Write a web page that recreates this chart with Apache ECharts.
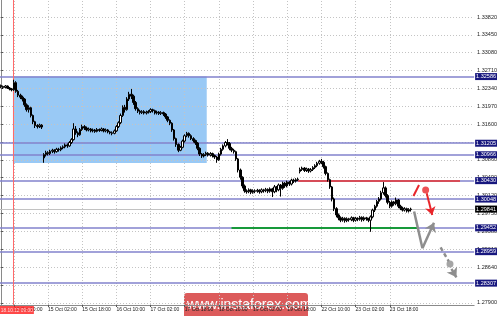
<!DOCTYPE html>
<html><head><meta charset="utf-8">
<script src="https://cdn.jsdelivr.net/npm/echarts@6/dist/echarts.min.js"></script>
<style>html,body{margin:0;padding:0;background:#fff}#c{width:500px;height:316px}</style>
</head><body><div id="c"></div>
<script>
// ---- data ----
const slotCount = 222; // candle slots on the time axis
// [open, close, low, high] per hourly candle
const candles = [
[1.3240,1.3238,1.3235,1.3242],[1.3238,1.3236,1.3233,1.3240],[1.3236,1.3239,1.3234,1.3241],[1.3239,1.3235,1.3233,1.3240],
[1.3235,1.3233,1.3230,1.3237],[1.3233,1.3231,1.3228,1.3235],[1.3231,1.3246,1.3229,1.3252],[1.3246,1.3228,1.3225,1.3249],
[1.3228,1.3220,1.3216,1.3231],[1.3220,1.3216,1.3212,1.3223],[1.3216,1.3212,1.3207,1.3219],[1.3212,1.3200,1.3196,1.3214],
[1.3200,1.3190,1.3186,1.3203],[1.3190,1.3194,1.3184,1.3199],[1.3194,1.3178,1.3174,1.3196],[1.3178,1.3165,1.3160,1.3180],
[1.3165,1.3157,1.3152,1.3167],[1.3157,1.3155,1.3151,1.3160],[1.3155,1.3158,1.3152,1.3161],[1.3158,1.3154,1.3150,1.3160],
[1.3090,1.3097,1.3080,1.3100],[1.3097,1.3101,1.3093,1.3105],[1.3101,1.3099,1.3095,1.3104],[1.3099,1.3104,1.3096,1.3107],
[1.3104,1.3106,1.3100,1.3109],[1.3106,1.3103,1.3099,1.3108],[1.3103,1.3108,1.3101,1.3111],[1.3108,1.3107,1.3103,1.3111],
[1.3107,1.3111,1.3104,1.3114],[1.3111,1.3113,1.3108,1.3116],[1.3113,1.3117,1.3110,1.3120],[1.3117,1.3115,1.3111,1.3120],
[1.3115,1.3122,1.3113,1.3125],[1.3122,1.3128,1.3119,1.3131],[1.3128,1.3150,1.3126,1.3162],[1.3150,1.3142,1.3138,1.3156],
[1.3142,1.3138,1.3133,1.3145],[1.3138,1.3149,1.3136,1.3152],[1.3149,1.3155,1.3146,1.3159],[1.3155,1.3152,1.3148,1.3158],
[1.3152,1.3148,1.3145,1.3155],[1.3148,1.3150,1.3145,1.3153],[1.3150,1.3146,1.3143,1.3152],[1.3146,1.3148,1.3143,1.3151],
[1.3148,1.3145,1.3142,1.3150],[1.3145,1.3149,1.3143,1.3152],[1.3149,1.3147,1.3144,1.3151],[1.3147,1.3150,1.3145,1.3153],
[1.3150,1.3146,1.3143,1.3152],[1.3146,1.3148,1.3143,1.3151],[1.3148,1.3144,1.3141,1.3150],[1.3144,1.3142,1.3139,1.3146],
[1.3142,1.3141,1.3137,1.3145],[1.3141,1.3146,1.3139,1.3149],[1.3146,1.3155,1.3144,1.3158],[1.3155,1.3163,1.3152,1.3166],
[1.3163,1.3178,1.3160,1.3182],[1.3178,1.3195,1.3175,1.3199],[1.3195,1.3190,1.3184,1.3200],[1.3190,1.3212,1.3188,1.3216],
[1.3212,1.3222,1.3208,1.3227],[1.3222,1.3218,1.3212,1.3233],[1.3218,1.3205,1.3200,1.3221],[1.3205,1.3192,1.3188,1.3208],
[1.3192,1.3187,1.3183,1.3195],[1.3187,1.3184,1.3180,1.3190],[1.3184,1.3186,1.3181,1.3189],[1.3186,1.3183,1.3180,1.3189],
[1.3183,1.3185,1.3180,1.3188],[1.3185,1.3186,1.3182,1.3189],[1.3186,1.3190,1.3183,1.3193],[1.3190,1.3188,1.3184,1.3192],
[1.3188,1.3183,1.3180,1.3190],[1.3183,1.3185,1.3180,1.3188],[1.3185,1.3182,1.3179,1.3187],[1.3182,1.3184,1.3179,1.3187],
[1.3184,1.3181,1.3177,1.3186],[1.3181,1.3175,1.3171,1.3183],[1.3175,1.3168,1.3164,1.3177],[1.3168,1.3162,1.3158,1.3170],
[1.3162,1.3148,1.3144,1.3164],[1.3148,1.3130,1.3126,1.3150],[1.3130,1.3118,1.3113,1.3132],[1.3118,1.3106,1.3102,1.3120],
[1.3106,1.3112,1.3104,1.3115],[1.3112,1.3125,1.3110,1.3128],[1.3125,1.3136,1.3122,1.3139],[1.3136,1.3141,1.3133,1.3144],
[1.3141,1.3136,1.3132,1.3143],[1.3136,1.3130,1.3127,1.3139],[1.3130,1.3126,1.3122,1.3133],[1.3126,1.3121,1.3117,1.3128],
[1.3121,1.3110,1.3106,1.3123],[1.3110,1.3098,1.3094,1.3112],[1.3098,1.3094,1.3090,1.3100],[1.3094,1.3097,1.3091,1.3100],
[1.3097,1.3100,1.3094,1.3103],[1.3100,1.3096,1.3093,1.3102],[1.3096,1.3099,1.3093,1.3102],[1.3099,1.3095,1.3091,1.3101],
[1.3095,1.3092,1.3088,1.3097],[1.3092,1.3086,1.3080,1.3094],[1.3086,1.3098,1.3084,1.3101],[1.3098,1.3108,1.3095,1.3111],
[1.3108,1.3115,1.3105,1.3118],[1.3115,1.3122,1.3112,1.3125],[1.3122,1.3120,1.3116,1.3129],[1.3120,1.3110,1.3106,1.3123],
[1.3110,1.3106,1.3102,1.3113],[1.3106,1.3103,1.3099,1.3109],[1.3103,1.3088,1.3084,1.3105],[1.3088,1.3065,1.3060,1.3090],
[1.3065,1.3050,1.3045,1.3068],[1.3050,1.3032,1.3027,1.3052],[1.3032,1.3022,1.3018,1.3035],[1.3022,1.3020,1.3016,1.3025],
[1.3020,1.3024,1.3017,1.3027],[1.3024,1.3019,1.3015,1.3026],[1.3019,1.3022,1.3016,1.3025],[1.3022,1.3021,1.3017,1.3025],
[1.3021,1.3023,1.3018,1.3026],[1.3023,1.3020,1.3016,1.3025],[1.3020,1.3024,1.3017,1.3027],[1.3024,1.3022,1.3018,1.3026],
[1.3022,1.3025,1.3019,1.3028],[1.3025,1.3021,1.3017,1.3027],[1.3021,1.3026,1.3018,1.3029],[1.3026,1.3020,1.3009,1.3028],
[1.3020,1.3030,1.3017,1.3034],[1.3030,1.3024,1.3019,1.3032],[1.3024,1.3034,1.3021,1.3037],[1.3034,1.3027,1.3010,1.3036],
[1.3027,1.3038,1.3024,1.3041],[1.3038,1.3032,1.3028,1.3040],[1.3032,1.3040,1.3029,1.3043],[1.3040,1.3036,1.3032,1.3042],
[1.3036,1.3044,1.3033,1.3047],[1.3044,1.3042,1.3038,1.3047],[1.3042,1.3045,1.3039,1.3048],[1.3045,1.3046,1.3042,1.3049],
[1.3062,1.3066,1.3058,1.3070],[1.3066,1.3069,1.3063,1.3072],[1.3069,1.3064,1.3061,1.3071],[1.3064,1.3067,1.3061,1.3070],
[1.3067,1.3063,1.3059,1.3069],[1.3063,1.3066,1.3060,1.3069],[1.3066,1.3070,1.3063,1.3073],[1.3070,1.3074,1.3067,1.3077],
[1.3074,1.3079,1.3071,1.3082],[1.3079,1.3083,1.3076,1.3086],[1.3083,1.3081,1.3077,1.3088],[1.3081,1.3072,1.3068,1.3084],
[1.3072,1.3058,1.3054,1.3074],[1.3058,1.3045,1.3041,1.3060],[1.3045,1.3030,1.3026,1.3047],[1.3030,1.3005,1.3000,1.3032],
[1.3005,1.2985,1.2980,1.3008],[1.2985,1.2972,1.2967,1.2988],[1.2972,1.2966,1.2961,1.2975],[1.2966,1.2961,1.2957,1.2969],
[1.2961,1.2965,1.2958,1.2968],[1.2965,1.2960,1.2956,1.2967],[1.2960,1.2964,1.2957,1.2967],[1.2964,1.2962,1.2958,1.2966],
[1.2962,1.2966,1.2959,1.2969],[1.2966,1.2961,1.2957,1.2968],[1.2961,1.2965,1.2958,1.2968],[1.2965,1.2963,1.2959,1.2967],
[1.2963,1.2967,1.2960,1.2970],[1.2967,1.2962,1.2958,1.2969],[1.2962,1.2966,1.2959,1.2969],[1.2966,1.2964,1.2960,1.2968],
[1.2964,1.2961,1.2957,1.2966],[1.2961,1.2968,1.2937,1.2971],[1.2968,1.2982,1.2965,1.2985],[1.2982,1.2990,1.2978,1.2993],
[1.2990,1.3000,1.2987,1.3003],[1.3000,1.3005,1.2995,1.3009],[1.3005,1.3018,1.3002,1.3022],[1.3018,1.3028,1.3014,1.3040],
[1.3028,1.3012,1.3008,1.3031],[1.3012,1.2998,1.2994,1.3015],[1.2998,1.2990,1.2986,1.3001],[1.2990,1.2999,1.2987,1.3002],
[1.2999,1.2995,1.2991,1.3001],[1.2995,1.3003,1.2992,1.3008],[1.3003,1.2990,1.2986,1.3005],[1.2990,1.2986,1.2982,1.2993],
[1.2986,1.2982,1.2979,1.2989],[1.2982,1.2985,1.2979,1.2988],[1.2985,1.2980,1.2977,1.2987],[1.2980,1.2983,1.2977,1.2986],
[1.2983,1.29841,1.2979,1.2987]
];
const yTicks = [1.27900,1.28270,1.28640,1.29010,1.29380,1.29750,1.30120,1.30490,1.30860,1.31230,1.31600,1.31970,1.32340,1.32710,1.33080,1.33450,1.33820];
const yMin = 1.27854, yMax = 1.34172;
const xTickIdx = [6,22,38,54,70,86,102,118,134,150,166,182];
const xTickText = ['12 Oct 10:00','15 Oct 02:00','15 Oct 18:00','16 Oct 10:00','17 Oct 02:00','17 Oct 18:00','18 Oct 10:00','19 Oct 02:00','19 Oct 18:00','22 Oct 10:00','23 Oct 02:00','23 Oct 18:00'];
const levels = [1.32586,1.31205,1.30966,1.30430,1.30048,1.29452,1.28959,1.28307];
const bidPrice = 1.29841;
const redSegment = [[139.1,1.30430],[214.9,1.30430]];
const greenSegment = [[107.9,1.29452],[195.0,1.29452]];
const zoneBox = [[5.55,1.32586],[96.3,1.30795]];
const vLineIdx = 5.55, vLineText = '18.10.12 09:00', vLineLabelIdx = 7.4;
const redUp = [[193.1,1.30112],[195.7,1.30340]];
const redDot = [198.8,1.30236];
const redArrow = [[199.3,1.30168],[201.9,1.29718]];
const grayDown = [[193.4,1.29790],[197.3,1.29028]];
const grayUp = [[197.3,1.29028],[202.7,1.29559]];
const grayDash = [[205.8,1.29049],[209.6,1.28760]];
const grayDot = [210.2,1.28703];
const grayDashArrow = [[210.9,1.28600],[213.2,1.28428]];

// ---- chart ----
const FONT = "'Liberation Sans',Arial,sans-serif";
const categories = Array.from({length: slotCount}, (_, i) => String(i));
const seg = (p, extra) => [{coord: p[0]}, Object.assign({coord: p[1]}, extra || {})];
const boxLabel = (bg) => ({show: true, position: 'end', distance: 1, formatter: p => Number(p.value).toFixed(5),
  backgroundColor: bg, color: '#fff', fontSize: 5.5, fontFamily: FONT, padding: [1, 1, 0, 1]});

const chart = echarts.init(document.getElementById('c'), null, {renderer: 'canvas'});
chart.setOption({
  animation: false,
  backgroundColor: '#fff',
  grid: {left: 0, right: 23, top: 0, bottom: 11},
  xAxis: [
    {type: 'category', data: categories, boundaryGap: true, show: false},
    {type: 'value', min: -0.5, max: slotCount - 0.5, position: 'bottom',
     axisLine: {show: true, onZero: false, lineStyle: {color: '#8a8a8a', width: 1}},
     axisTick: {show: true, customValues: xTickIdx, length: 2, lineStyle: {color: '#555'}},
     axisLabel: {show: true, customValues: xTickIdx, formatter: v => xTickText[xTickIdx.indexOf(v)] || '',
       align: 'left', margin: 2, fontSize: 5, color: '#222', fontFamily: FONT},
     splitLine: {show: false}}
  ],
  yAxis: {type: 'value', position: 'right', min: yMin, max: yMax,
    axisLine: {show: true, lineStyle: {color: '#8a8a8a', width: 1}},
    axisTick: {show: true, customValues: yTicks, length: 2, lineStyle: {color: '#555'}},
    axisLabel: {show: true, customValues: yTicks, formatter: v => v.toFixed(5), margin: 3,
      fontSize: 5.5, color: '#222', fontFamily: FONT},
    splitLine: {show: false}},
  series: [
    { // zone rectangle
      type: 'line', xAxisIndex: 1, data: [], z: 1, silent: true,
      markArea: {silent: true, itemStyle: {color: '#99c9f5', opacity: 1},
        data: [[{coord: zoneBox[0]}, {coord: zoneBox[1]}]]}
    },
    { // dotted grid
      type: 'line', xAxisIndex: 1, data: [], z: 2, silent: true,
      markLine: {silent: true, precision: 5, symbol: ['none', 'none'], label: {show: false},
        lineStyle: {color: '#c4c4c4', type: [1, 2], width: 1},
        data: yTicks.map(v => ({yAxis: v})).concat(xTickIdx.map(i => ({xAxis: i})))}
    },
    { // level lines with price boxes
      type: 'line', xAxisIndex: 1, data: [], z: 3, silent: true,
      markLine: {silent: true, precision: 5, symbol: ['none', 'none'],
        lineStyle: {color: '#8282cc', type: 'solid', width: 1.5},
        data: [{yAxis: bidPrice, lineStyle: {color: '#c2c2c2', width: 1}, label: boxLabel('#000')}]
          .concat(levels.map(v => ({yAxis: v, label: boxLabel('#17177e')})))}
    },
    { // red / green segments and vertical red line
      type: 'line', xAxisIndex: 1, data: [], z: 4, silent: true,
      markLine: {silent: true, precision: 5, symbol: ['none', 'none'], label: {show: false},
        data: [
          seg(redSegment).map((d, k) => k === 0 ? Object.assign(d, {lineStyle: {color: '#e8302c', width: 1.6, type: 'solid'}}) : d),
          seg(greenSegment).map((d, k) => k === 0 ? Object.assign(d, {lineStyle: {color: '#17993a', width: 2, type: 'solid'}}) : d),
          {xAxis: vLineIdx, lineStyle: {color: '#ff6a6a', width: 1, type: 'solid'}}
        ]}
    },
    { // date box of the vertical line
      type: 'scatter', xAxisIndex: 1, z: 8, silent: true, clip: false, symbolSize: 0,
      data: [[vLineLabelIdx, yMin]],
      label: {show: true, position: 'bottom', distance: 1, formatter: vLineText, backgroundColor: '#ff1a1a',
        color: '#fff', fontSize: 4.8, fontFamily: FONT, padding: [2, 1, 1, 1]}
    },
    { // candles
      type: 'candlestick', xAxisIndex: 0, data: candles, z: 5, barWidth: 2, silent: true,
      itemStyle: {color: '#ffffff', color0: '#000000', borderColor: '#000000', borderColor0: '#000000', borderWidth: 1}
    },
    { // red forecast
      type: 'line', xAxisIndex: 1, data: [], z: 6, silent: true,
      markLine: {silent: true, precision: 5, label: {show: false}, lineStyle: {color: '#e8262b', width: 2, type: 'solid'},
        symbol: ['none', 'none'],
        data: [seg(redUp), seg(redArrow, {symbol: 'arrow', symbolSize: 8})]}
    },
    { // gray forecast
      type: 'line', xAxisIndex: 1, data: [], z: 6, silent: true,
      markLine: {silent: true, precision: 5, label: {show: false}, lineStyle: {color: '#8e8e8e', width: 2.5, type: 'solid'},
        symbol: ['none', 'none'],
        data: [seg(grayDown), seg(grayUp, {symbol: 'arrow', symbolSize: 9}),
          seg(grayDash).map((d, k) => k === 0 ? Object.assign(d, {lineStyle: {type: [4, 3]}}) : d),
          seg(grayDashArrow, {symbol: 'arrow', symbolSize: 9}).map((d, k) => k === 0 ? Object.assign(d, {lineStyle: {type: [4, 3]}}) : d)]}
    },
    { // dots
      type: 'scatter', xAxisIndex: 1, z: 7, silent: true, symbolSize: 7,
      data: [{value: redDot, itemStyle: {color: '#e8262b'}}, {value: grayDot, itemStyle: {color: '#8e8e8e'}}]
    }
  ],
  graphic: [{
    type: 'group', left: 184, top: 293, z: 100,
    children: [
      {type: 'rect', shape: {x: 0, y: 0, width: 124, height: 28, r: 3}, style: {fill: 'rgba(214,62,62,0.85)'}},
      {type: 'text', x: 3, y: 12, style: {text: 'www.instaforex.com', fill: '#fff', fontSize: 14,
        fontFamily: "'Liberation Sans',Arial,sans-serif", verticalAlign: 'middle', align: 'left'}}
    ]
  }]
});
</script>
</body></html>
